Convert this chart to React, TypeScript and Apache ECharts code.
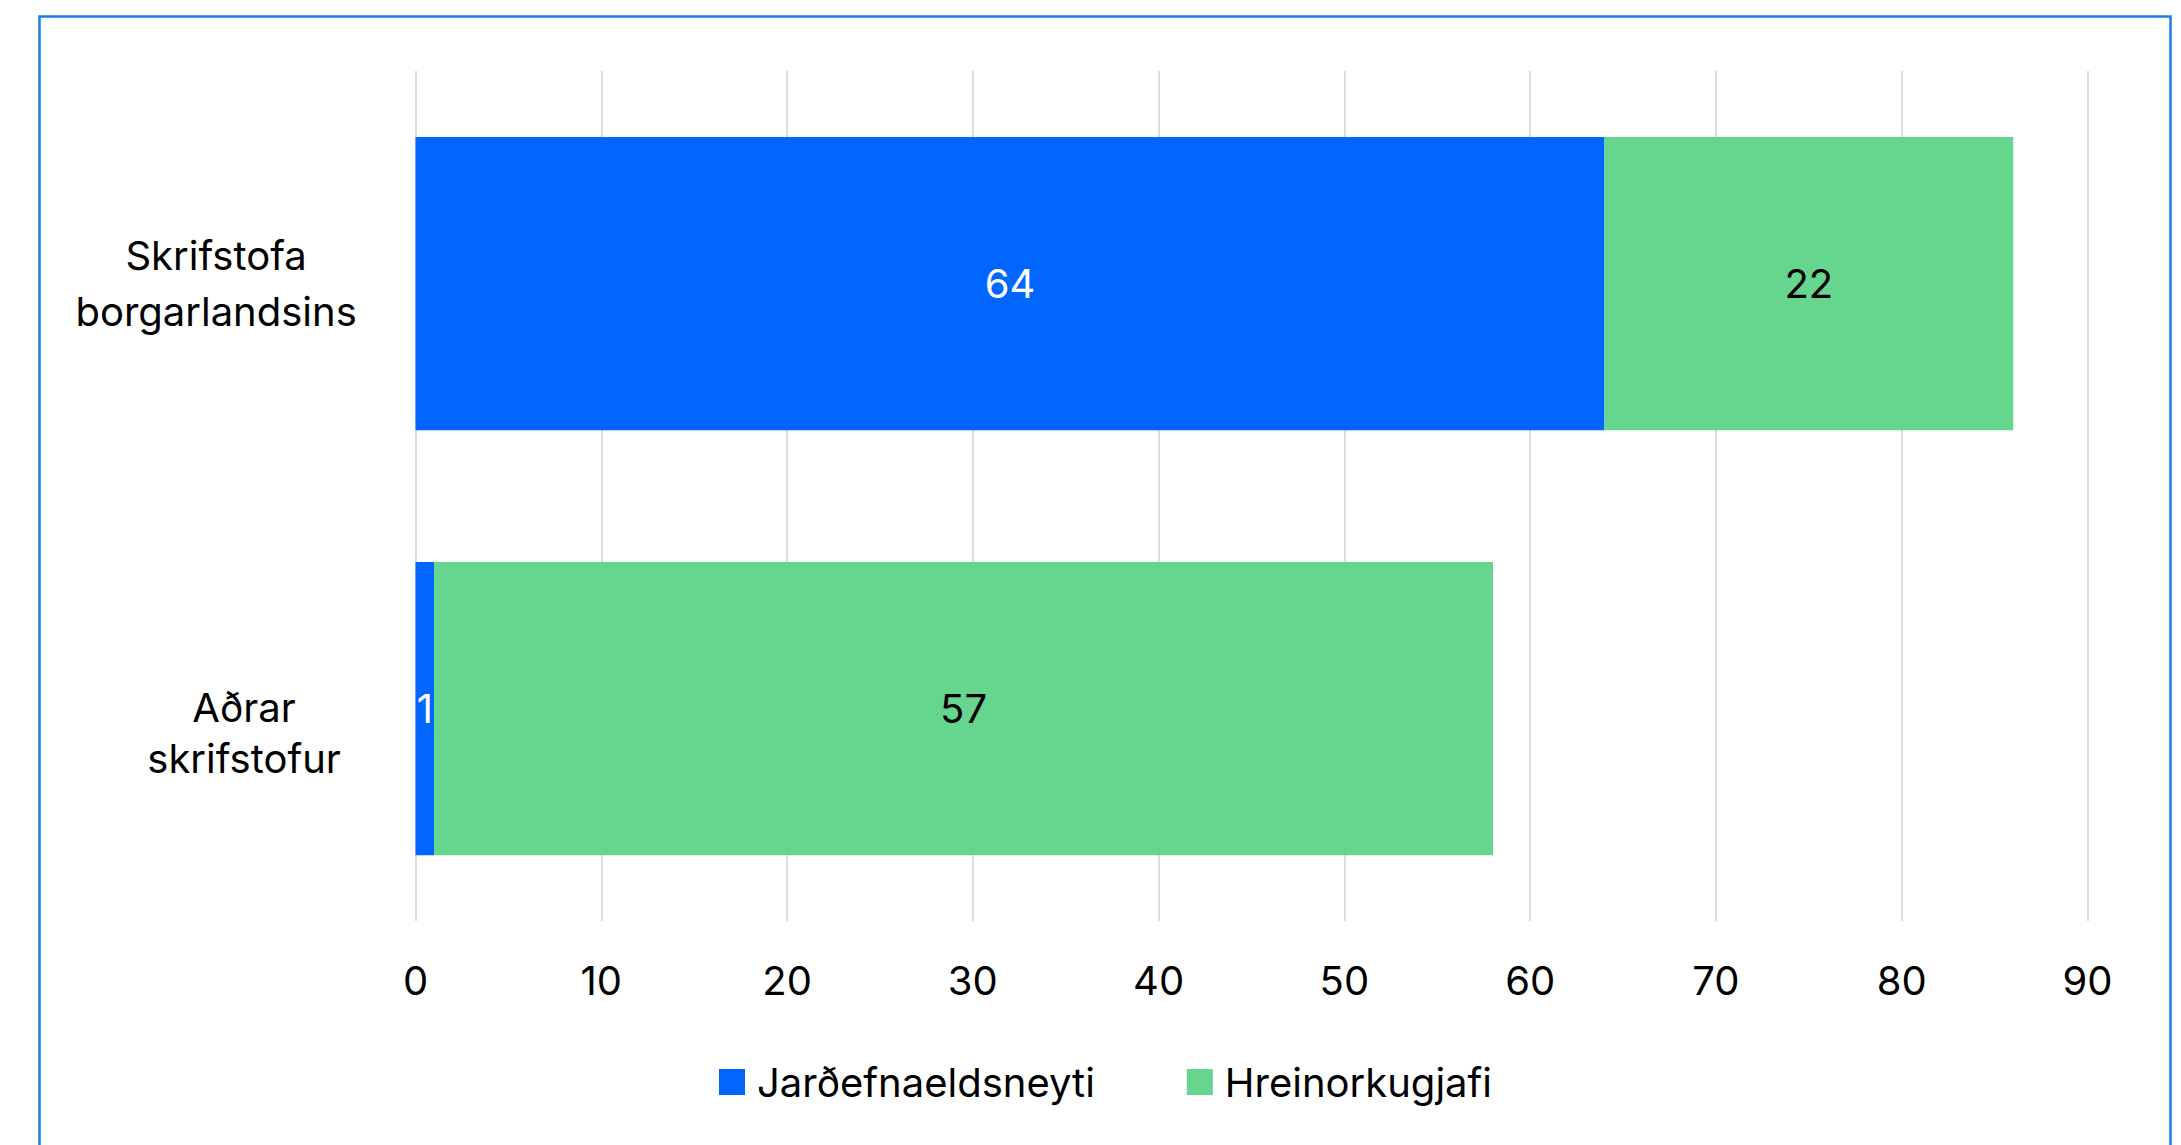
import React, { useEffect, useRef } from "react";
import * as echarts from "echarts";

const categories = ["Skrifstofa borgarlandsins", "Aðrar skrifstofur"];
const seriesNames = ["Jarðefnaeldsneyti", "Hreinorkugjafi"];
const fossilValues = [64, 1];
const cleanValues = [22, 57];
const xTicks = { min: 0, max: 90, interval: 10 };

const FONT = "Inter";
const BLUE = "#0066FF";
const GREEN = "#66D68F";

export default function App() {
  const ref = useRef<HTMLDivElement>(null);

  useEffect(() => {
    if (!ref.current) return;
    const chart = echarts.init(ref.current, undefined, { renderer: "svg" });
    chart.setOption({
      animation: false,
      backgroundColor: "#ffffff",
      textStyle: { fontFamily: FONT },
      graphic: [
        {
          type: "rect",
          shape: { x: 39.5, y: 16.5, width: 2131, height: 1200 },
          style: { fill: "none", stroke: "#1B7FE6", lineWidth: 2.5 },
          silent: true,
          z: -1,
        },
      ],
      grid: { left: 415.5, top: 71, width: 1672, height: 850, containLabel: false },
      legend: {
        data: seriesNames,
        left: 714,
        top: 1057,
        padding: 5,
        icon: "rect",
        itemWidth: 26,
        itemHeight: 26,
        itemGap: 92,
        textStyle: {
          fontFamily: FONT,
          fontSize: 40,
          color: "#000000",
          padding: [0, 0, 0, 7],
        },
      },
      xAxis: {
        type: "value",
        min: xTicks.min,
        max: xTicks.max,
        interval: xTicks.interval,
        axisLine: { show: false },
        axisTick: { show: false },
        splitLine: { show: true, lineStyle: { color: "#D9D9D9", width: 1.8 } },
        axisLabel: {
          fontFamily: FONT,
          fontSize: 40,
          color: "#000000",
          margin: 39,
        },
      },
      yAxis: {
        type: "category",
        data: categories,
        inverse: true,
        axisLine: { show: false },
        axisTick: { show: false },
        splitLine: { show: false },
        axisLabel: {
          interval: 0,
          align: "center",
          margin: 171.4,
          fontFamily: FONT,
          fontSize: 40,
          color: "#000000",
          formatter: (v: string) => {
            const parts = v.split(" ");
            if (v === categories[0]) {
              return `{a|${parts[0]}}\n{a|${parts.slice(1).join(" ")}}`;
            }
            return `{b|${parts[0]}}\n{b|${parts.slice(1).join(" ")}}`;
          },
          rich: {
            a: {
              fontFamily: FONT,
              fontSize: 40,
              color: "#000000",
              lineHeight: 56,
              padding: [0, 56, 0, 0],
            },
            b: {
              fontFamily: FONT,
              fontSize: 40,
              color: "#000000",
              lineHeight: 51,
              padding: [49, 0, 0, 0],
            },
          },
        },
      },
      series: [
        {
          name: seriesNames[0],
          type: "bar",
          stack: "total",
          data: fossilValues,
          barWidth: "69%",
          itemStyle: { color: BLUE },
          label: {
            show: true,
            position: "inside",
            color: "#FFFFFF",
            fontFamily: FONT,
            fontSize: 40,
          },
        },
        {
          name: seriesNames[1],
          type: "bar",
          stack: "total",
          data: cleanValues,
          barWidth: "69%",
          itemStyle: { color: GREEN },
          label: {
            show: true,
            position: "inside",
            color: "#000000",
            fontFamily: FONT,
            fontSize: 40,
          },
        },
      ],
    });
    return () => chart.dispose();
  }, []);

  return (
    <div
      ref={ref}
      style={{ position: "fixed", left: 0, top: 0, width: 2181, height: 1145 }}
    />
  );
}
